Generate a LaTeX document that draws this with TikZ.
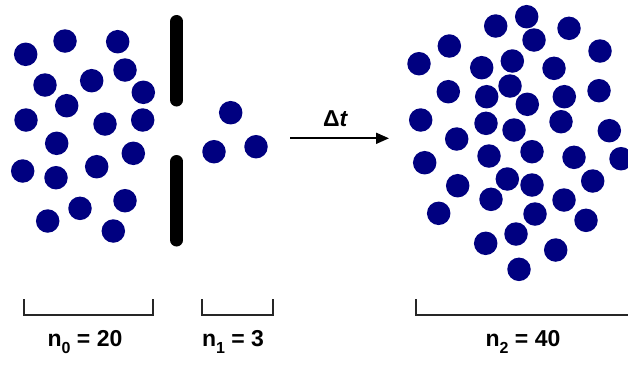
\documentclass[tikz,border=0pt]{standalone}
\usepackage{fontspec}
\setmainfont{Liberation Sans}
\usetikzlibrary{positioning, arrows.meta}
\definecolor{dotblue}{HTML}{000080}
\newcommand{\idx}[1]{\raisebox{-0.28em}{\fontsize{16}{16}\selectfont #1}}

\begin{document}
\begin{tikzpicture}[
        x=1pt, y=-1pt,
        particle/.style={circle, fill=dotblue, inner sep=0pt, minimum size=23.5pt},
        wall/.style={line width=13pt, line cap=round},
        brace/.style={line width=1.8pt, black!85},
        arrow/.style={-{Triangle[length=13pt, width=11pt]}, line width=1.8pt},
        count/.style={font=\fontsize{23}{27}\selectfont\bfseries, inner sep=0pt},
    ]
    \useasboundingbox (0,0) rectangle (628,365);

    % Reservoir before the slit
    \foreach \x/\y [count=\i] in {25.7/54.3, 65/41, 117.7/41.7, 45/85, 91.7/80.7,
            125/70, 143.3/92.3, 66.7/105.7, 26/120, 105/124, 142.7/120, 56.7/143.3,
            133.3/153.3, 22.7/171, 56/177.7, 96.7/166.7, 80/208.3, 125/200.7,
            47.7/221, 113.3/231}
        \node[particle] (a\i) at (\x,\y) {};

    % Slit walls
    \coordinate (wtop1) at (176.7,21.5);
    \coordinate (wbot1) at (176.7,100);
    \coordinate (wtop2) at (176.7,161.5);
    \coordinate (wbot2) at (176.7,240);
    \draw[wall] (wtop1) -- (wbot1);
    \draw[wall] (wtop2) -- (wbot2);

    % Particles that passed
    \foreach \x/\y [count=\i] in {230.7/112.7, 214/151.7, 256/146.7}
        \node[particle] (b\i) at (\x,\y) {};

    % Time step
    \coordinate (dtstart) at (290,138.3);
    \coordinate (dtend) at (389,138.3);
    \draw[arrow] (dtstart) -- node[count, above=11pt, xshift=-4pt] (dt) {Δ\textit{t}} (dtend);

    % Later state
    \foreach \x/\y [count=\i] in {526.7/16.7, 495.7/26, 569/28.3, 534/40, 449.3/46,
            600/51, 419/63.7, 481.7/67.7, 512.3/61, 554/68.3, 448.3/91.7, 510/86,
            486.7/96.7, 564.3/96.7, 599/90.7, 527.3/104.3, 420.7/120, 486/123.3,
            514/130, 561/121.7, 456.7/139, 609.3/130.7, 424.7/162.7, 489/156,
            532/151.7, 574/157.3, 621/158.7, 507.3/179, 532/185, 457.7/185.7,
            592.7/181, 491/199.3, 564/200, 438.7/213.3, 535/214, 586/220.3,
            485.7/243.3, 516/234, 555.7/250, 519/269.3}
        \node[particle] (c\i) at (\x,\y) {};

    % Brackets
    \draw[brace] (24,299) -- (24,315) -- (153.3,315) -- (153.3,299);
    \draw[brace] (201.7,299) -- (201.7,315) -- (273.3,315) -- (273.3,299);
    \draw[brace] (416,299) -- (416,315) -- (630,315);

    % Counts
    \node[count] (n0) at (85,342) {n\idx{0} = 20};
    \node[count] (n1) at (233,342) {n\idx{1} = 3};
    \node[count] (n2) at (523,342) {n\idx{2} = 40};
\end{tikzpicture}
\end{document}
